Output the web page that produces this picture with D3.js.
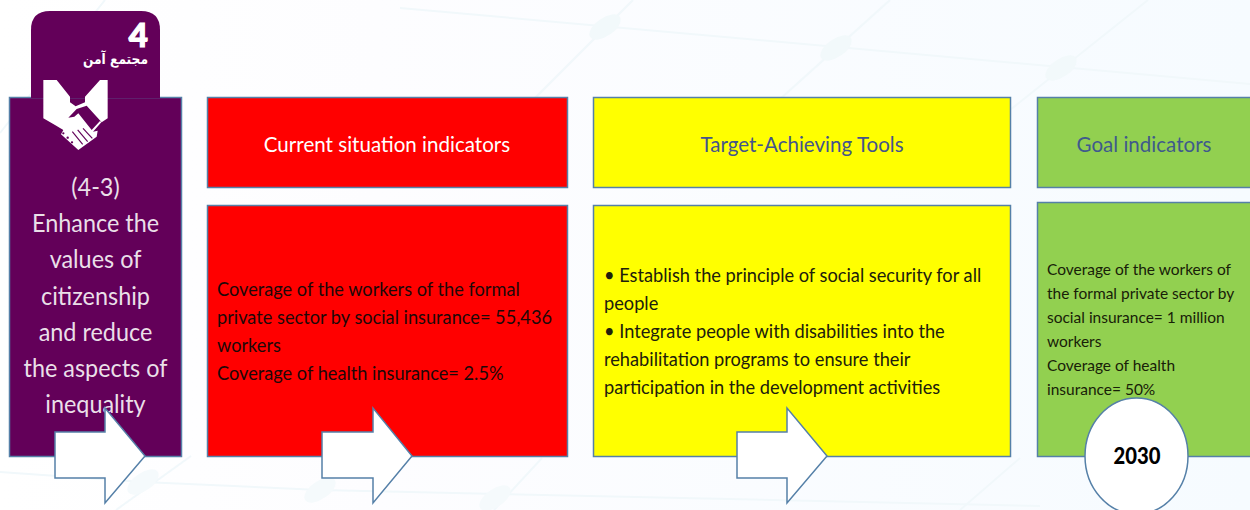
<!DOCTYPE html>
<html>
<head>
<meta charset="utf-8">
<script src="https://cdn.jsdelivr.net/npm/d3@7"></script>
<style>
html, body { margin: 0; padding: 0; background: #fff; }
svg { display: block; }
text { font-family: Lato, "Open Sans", sans-serif; }
</style>
</head>
<body>
<div id="chart"></div>
<script>
// texts
var goalNumber = '4';
var goalName = 'مجتمع آمن';
var sideLines = ['(4-3)', 'Enhance the', 'values of', 'citizenship', 'and reduce', 'the aspects of', 'inequality'];
var headers = ['Current situation indicators', 'Target-Achieving Tools', 'Goal indicators'];
var currentLines = ['Coverage of the workers of the formal', 'private sector by social insurance= 55,436', 'workers', 'Coverage of health insurance= 2.5%'];
var toolLines = ['• Establish the principle of social security for all', 'people', '• Integrate people with disabilities into the', 'rehabilitation programs to ensure their', 'participation in the development activities'];
var goalLines = ['Coverage of the workers of', 'the formal private sector by', 'social insurance= 1 million', 'workers', 'Coverage of health', 'insurance= 50%'];
var targetYear = '2030';

var width = 1250, height = 510;
var edge = '#5580a8';
var purple = '#630059';

var svg = d3.select('#chart').append('svg')
    .attr('width', width)
    .attr('height', height);

// pale background
var grad = svg.append('defs').append('linearGradient')
    .attr('id', 'bg')
    .attr('x1', 0).attr('x2', 1).attr('y1', 0).attr('y2', 0);
grad.append('stop').attr('offset', 0).attr('stop-color', '#ffffff');
grad.append('stop').attr('offset', 0.3).attr('stop-color', '#fdfdff');
grad.append('stop').attr('offset', 1).attr('stop-color', '#f6fbff');
svg.append('rect')
    .attr('width', width).attr('height', height)
    .attr('fill', 'url(#bg)');

// the faint network behind the boxes
var net = svg.append('g')
    .attr('stroke', '#f1f8fb')
    .attr('stroke-width', 2)
    .attr('fill', 'none');
[
    [[400, 8], [1250, 84]], [[633, 0], [533, 100]], [[890, 0], [779, 100]],
    [[1148, 0], [1010, 110]], [[105, 0], [0, 133]], [[0, 472], [143, 482]],
    [[143, 482], [320, 490]], [[320, 490], [1040, 506]],
    [[191, 456], [116, 510]], [[542, 458], [494, 510]], [[1020, 458], [960, 510]]
].forEach(function (s) {
    net.append('path').attr('d', d3.line()(s));
});
[[605, 27], [836, 48], [1061, 68], [143, 482], [320, 490], [495, 498]].forEach(function (c, i) {
    svg.append('ellipse')
        .attr('rx', 18).attr('ry', 9)
        .attr('transform', 'translate(' + c[0] + ',' + c[1] + ') rotate(-35)')
        .attr('fill', i < 3 ? '#f2f9fb' : '#f5fafc');
});

function box(x, y, w, h, fill) {
    svg.append('rect')
        .attr('x', x + 0.5).attr('y', y + 0.5)
        .attr('width', w).attr('height', h)
        .attr('fill', fill)
        .attr('stroke', edge)
        .attr('stroke-width', 1.5);
}

// squeeze narrows the glyphs to get closer to the original's tighter face
function lines(list, x, y, step, size, fill, anchor, squeeze, weight) {
    svg.append('g').selectAll('text')
        .data(list)
        .enter()
        .append('text')
        .attr('x', x)
        .attr('y', function (d, i) { return y + i * step; })
        .attr('font-size', size)
        .attr('font-weight', weight || 400)
        .attr('fill', fill)
        .attr('text-anchor', anchor)
        .text(function (d) { return d; })
        .each(function () {
            d3.select(this)
                .attr('textLength', this.getComputedTextLength() * squeeze)
                .attr('lengthAdjust', 'spacingAndGlyphs');
        });
}

// purple column with its tab
box(9, 97, 172, 359, purple);
svg.append('path')
    .attr('d', 'M31,98V30Q31,11 50,11H141Q160,11 160,30V98Z')
    .attr('fill', purple);

svg.append('text')
    .attr('x', 148).attr('y', 47)
    .attr('text-anchor', 'end')
    .attr('font-size', 33)
    .attr('font-weight', 900)
    .attr('fill', '#fff')
    .attr('stroke', '#fff')
    .attr('stroke-width', 1.2)
    .text(goalNumber);
svg.append('text')
    .attr('x', 148).attr('y', 64)
    .attr('text-anchor', 'start')
    .attr('direction', 'rtl')
    .attr('font-size', 14)
    .attr('font-weight', 700)
    .attr('fill', '#fff')
    .attr('textLength', 65)
    .attr('lengthAdjust', 'spacingAndGlyphs')
    .style('font-family', '"DejaVu Sans", sans-serif')
    .text(goalName);

// handshake icon, drawn in a 3x grid over the tab
var icon = svg.append('g')
    .attr('transform', 'translate(35,15) scale(0.3333)');
icon.append('path')
    .attr('fill', '#fff')
    .attr('d', 'M25,195L65,195L105,245L105,262L122,274L150,262L150,245L195,195L218,195L218,310L200,322L155,272L125,282L100,308L118,305L130,295L170,345L195,318L199,322L174,350L188,347L185,365L130,405L78,358L85,345L60,330L25,310Z');
var creases = icon.append('g')
    .attr('stroke', purple)
    .attr('stroke-width', 3.5)
    .attr('fill', 'none');
[
    [[112, 350], [143, 388]], [[128, 345], [158, 380]], [[144, 340], [172, 370]]
].forEach(function (s) {
    creases.append('path').attr('d', d3.line()(s));
});
[[85, 355], [98, 368], [111, 382]].forEach(function (c) {
    icon.append('circle')
        .attr('cx', c[0]).attr('cy', c[1]).attr('r', 3.5)
        .attr('fill', purple);
});

lines(sideLines, 95.5, 196, 36.2, 24.5, '#eadfe8', 'middle', 0.955);

// red column
box(207, 97, 360, 90, '#ff0000');
box(207, 205, 360, 251, '#ff0000');
lines([headers[0]], 387, 152, 0, 22, '#ffffff', 'middle', 0.935);
lines(currentLines, 217, 296, 28, 18.5, '#1c0808', 'start', 0.983);

// yellow column
box(593, 97, 417, 90, '#ffff00');
box(593, 205, 417, 251, '#ffff00');
lines([headers[1]], 802, 152, 0, 22, '#44548c', 'middle', 0.935);
lines(toolLines, 604, 282, 28, 18.5, '#20200c', 'start', 0.984);

// green column runs off the right edge
box(1037, 97, 230, 90, '#92d050');
box(1037, 202, 230, 254, '#92d050');
lines([headers[2]], 1144, 152, 0, 22, '#3f5a8c', 'middle', 0.935);
lines(goalLines, 1047, 275, 24, 15.8, '#182008', 'start', 0.98);

// block arrows
[[55, 50], [322, 51], [737, 50]].forEach(function (a) {
    var x = a[0], neck = x + a[1];
    svg.append('path')
        .attr('d', d3.line()([[x, 432], [neck, 432], [neck, 408], [x + 90, 456], [neck, 503], [neck, 478], [x, 478]]) + 'Z')
        .attr('fill', '#fff')
        .attr('stroke', edge)
        .attr('stroke-width', 1.5);
});

// year badge
svg.append('ellipse')
    .attr('cx', 1136.5).attr('cy', 456)
    .attr('rx', 51.5).attr('ry', 58)
    .attr('fill', '#fff')
    .attr('stroke', edge)
    .attr('stroke-width', 1.5);
lines([targetYear], 1137, 464, 0, 23, '#000', 'middle', 0.88, 900);
</script>
</body>
</html>
